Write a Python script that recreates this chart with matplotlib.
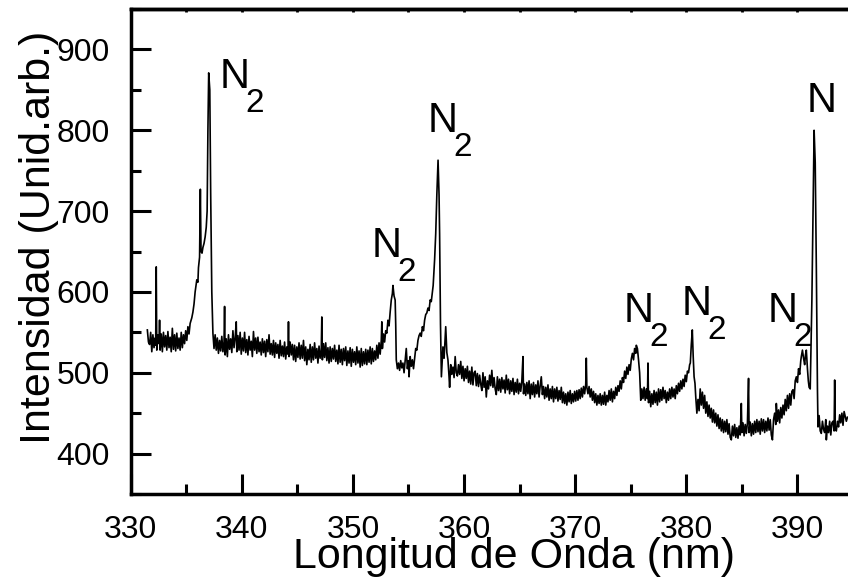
# Emission spectrum (N2 / N lines)

import numpy as np
import matplotlib.pyplot as plt
from matplotlib.ticker import MultipleLocator

# spectrum, one list per stretch:
# (wavelength nm, intensity arb. units)
seg_first_peak = [
    (331.5, 553), (331.6, 538), (331.7, 535), (331.8, 550), (331.9, 526), (332.0, 547),
    (332.1, 531), (332.2, 543), (332.25, 534), (332.3, 631), (332.35, 528), (332.45, 547),
    (332.55, 536), (332.6, 565), (332.65, 528), (332.75, 548), (332.85, 526), (332.95, 550),
    (333.05, 532), (333.15, 546), (333.25, 528), (333.35, 551), (333.45, 531), (333.55, 544),
    (333.65, 526), (333.75, 555), (333.85, 529), (333.95, 547), (334.05, 527), (334.15, 549),
    (334.25, 530), (334.35, 543), (334.45, 528), (334.55, 550), (334.65, 531), (334.75, 547),
    (334.85, 536), (334.95, 552), (335.05, 540), (335.15, 557), (335.25, 548), (335.35, 561),
    (335.5, 568), (335.6, 575), (335.7, 585), (335.8, 600), (335.95, 615), (336.05, 612),
    (336.1, 630), (336.2, 643), (336.27, 727), (336.33, 650), (336.42, 648), (336.5, 655),
    (336.6, 660), (336.7, 668), (336.8, 680), (336.88, 700), (336.95, 800), (337.02, 871),
    (337.12, 850), (337.2, 720), (337.3, 600), (337.4, 549),
]
seg_plateau = [
    (337.5, 530), (337.6, 547), (337.7, 528), (337.8, 543), (337.9, 524), (338.0, 540),
    (338.1, 527), (338.2, 545), (338.3, 526), (338.4, 538), (338.45, 582), (338.5, 522),
    (338.6, 542), (338.7, 520), (338.8, 547), (338.9, 529), (339.0, 542), (339.1, 525),
    (339.2, 552), (339.3, 531), (339.4, 543), (339.5, 563), (339.55, 526), (339.65, 546),
    (339.75, 528), (339.85, 550), (339.95, 523), (340.05, 543), (340.15, 527), (340.25, 550),
    (340.35, 525), (340.45, 541), (340.55, 522), (340.65, 545), (340.75, 528), (340.85, 539),
    (340.95, 520), (341.05, 551), (341.15, 528), (341.25, 543), (341.35, 524), (341.45, 544),
    (341.55, 526), (341.65, 538), (341.75, 522), (341.85, 542), (341.95, 525), (342.05, 539),
    (342.15, 520), (342.25, 541), (342.35, 526), (342.45, 547), (342.55, 523), (342.65, 536),
    (342.75, 522), (342.85, 540), (342.95, 519), (343.05, 537), (343.15, 524), (343.25, 535),
    (343.35, 518), (343.45, 540), (343.55, 521), (343.65, 533), (343.75, 520), (343.85, 538),
    (343.95, 517), (344.05, 532), (344.15, 523), (344.2, 563), (344.25, 520), (344.35, 538),
    (344.45, 522), (344.55, 535), (344.65, 516), (344.75, 534), (344.85, 514), (344.95, 532),
    (345.05, 519), (345.15, 537), (345.25, 517), (345.35, 534), (345.45, 518), (345.55, 540),
    (345.65, 515), (345.75, 532), (345.85, 510), (345.95, 529), (346.05, 516), (346.15, 535),
    (346.25, 513), (346.35, 532), (346.45, 516), (346.55, 537), (346.65, 518), (346.75, 530),
    (346.85, 512), (346.95, 533), (347.05, 518), (347.15, 528), (347.2, 569), (347.25, 516),
    (347.35, 536), (347.45, 519), (347.55, 537), (347.65, 515), (347.75, 531), (347.85, 512),
    (347.95, 532), (348.05, 514), (348.15, 530), (348.25, 517), (348.35, 534), (348.45, 514),
    (348.55, 528), (348.65, 511), (348.75, 534), (348.85, 513), (348.95, 529), (349.05, 510),
    (349.15, 530), (349.25, 515), (349.35, 532), (349.45, 509), (349.55, 527), (349.65, 512),
    (349.75, 531), (349.85, 508), (349.95, 529), (350.05, 513), (350.15, 526), (350.25, 510),
    (350.35, 532), (350.45, 512), (350.55, 527), (350.65, 507), (350.75, 530), (350.85, 509),
    (350.95, 526), (351.05, 511), (351.15, 529), (351.25, 510), (351.35, 528), (351.45, 513),
    (351.55, 532), (351.65, 511), (351.75, 530), (351.85, 514), (351.95, 527), (352.05, 516),
    (352.15, 534), (352.25, 518), (352.35, 537), (352.45, 523),
]
seg_middle_peaks = [
    (352.55, 540), (352.6, 563), (352.65, 530), (352.75, 548), (352.85, 538), (352.95, 552),
    (353.05, 549), (353.15, 565), (353.25, 558), (353.35, 575), (353.45, 590), (353.55, 598),
    (353.6, 608), (353.7, 595), (353.8, 590), (353.85, 560), (353.9, 516), (354.0, 505),
    (354.1, 512), (354.2, 503), (354.3, 515), (354.4, 506), (354.5, 512), (354.6, 500),
    (354.7, 515), (354.8, 530), (354.9, 505), (355.0, 515), (355.05, 495), (355.15, 520),
    (355.25, 508), (355.35, 516), (355.45, 505), (355.55, 518), (355.65, 530), (355.75, 528),
    (355.85, 540), (355.95, 546), (356.05, 549), (356.15, 545), (356.25, 557), (356.35, 552),
    (356.45, 565), (356.55, 572), (356.65, 574), (356.75, 580), (356.85, 577), (356.95, 590),
    (357.05, 588), (357.15, 600), (357.22, 608), (357.35, 640), (357.45, 672), (357.55, 720),
    (357.66, 763), (357.75, 720), (357.8, 672), (357.88, 560), (357.96, 495), (358.05, 520),
    (358.1, 532), (358.2, 518), (358.25, 530), (358.35, 557), (358.45, 525), (358.55, 516),
    (358.65, 495), (358.7, 482),
]
seg_slope = [
    (358.8, 510), (358.9, 498), (359.0, 507), (359.1, 494), (359.2, 520), (359.3, 500),
    (359.4, 496), (359.5, 510), (359.6, 498), (359.7, 514), (359.8, 493), (359.9, 508),
    (360.0, 490), (360.1, 505), (360.2, 493), (360.3, 508), (360.4, 488), (360.5, 502),
    (360.6, 486), (360.7, 507), (360.8, 485), (360.9, 500), (361.0, 502), (361.1, 484),
    (361.2, 499), (361.3, 483), (361.4, 497), (361.5, 486), (361.6, 478), (361.7, 500),
    (361.8, 482), (361.9, 495), (362.0, 470), (362.1, 490), (362.2, 480), (362.3, 497),
    (362.4, 484), (362.5, 503), (362.6, 482), (362.7, 494), (362.8, 480), (362.9, 473),
    (363.0, 495), (363.1, 478), (363.2, 492), (363.3, 476), (363.4, 494), (363.5, 480),
    (363.6, 491), (363.7, 475), (363.8, 497), (363.9, 479), (364.0, 492), (364.1, 474),
    (364.2, 490), (364.3, 477), (364.4, 493), (364.5, 473), (364.6, 488), (364.7, 476),
    (364.8, 492), (364.9, 474), (365.0, 487), (365.1, 477), (365.2, 490), (365.3, 520),
    (365.35, 474), (365.45, 486), (365.55, 472), (365.65, 488), (365.75, 474), (365.85, 490),
    (365.95, 468), (366.05, 486), (366.15, 473), (366.25, 488), (366.35, 470), (366.45, 485),
    (366.55, 474), (366.65, 490), (366.75, 470), (366.85, 484), (366.95, 495), (367.05, 473),
    (367.15, 483), (367.25, 468), (367.35, 482), (367.45, 470), (367.55, 485), (367.65, 466),
    (367.75, 480), (367.85, 468), (367.95, 483), (368.05, 464), (368.15, 480), (368.25, 468),
    (368.35, 482), (368.45, 465), (368.55, 478), (368.65, 467), (368.75, 482), (368.85, 463),
    (368.95, 476), (369.05, 462), (369.15, 474), (369.25, 460), (369.35, 476), (369.45, 464),
    (369.55, 478), (369.65, 462), (369.75, 474), (369.85, 464), (369.95, 477), (370.05, 465),
    (370.15, 478), (370.25, 466), (370.35, 479), (370.45, 468), (370.55, 481), (370.65, 470),
    (370.75, 483), (370.85, 474), (370.95, 486), (371.0, 518), (371.05, 482), (371.15, 474),
    (371.25, 483), (371.35, 470), (371.45, 480), (371.55, 466), (371.65, 477), (371.75, 463),
    (371.85, 474), (371.95, 460), (372.05, 472), (372.15, 462), (372.25, 474), (372.35, 460),
    (372.45, 472), (372.55, 461), (372.65, 476), (372.75, 460), (372.85, 472), (372.95, 464),
    (373.05, 478), (373.15, 466), (373.25, 480), (373.35, 464), (373.45, 477), (373.55, 468),
    (373.65, 482), (373.75, 472), (373.85, 484), (373.95, 477), (374.05, 490), (374.15, 480),
    (374.25, 494), (374.35, 488), (374.45, 502), (374.55, 493), (374.65, 507), (374.75, 498),
    (374.85, 510),
]
seg_red_end = [
    (374.95, 503), (375.05, 517), (375.15, 524), (375.25, 516), (375.35, 530), (375.45, 524),
    (375.5, 534), (375.6, 530), (375.7, 516), (375.8, 500), (375.9, 466), (376.0, 480),
    (376.1, 468), (376.2, 482), (376.3, 466), (376.4, 480), (376.5, 468), (376.55, 512),
    (376.6, 463), (376.7, 477), (376.8, 458), (376.9, 474), (377.0, 461), (377.1, 478),
    (377.2, 463), (377.3, 476), (377.4, 460), (377.5, 480), (377.6, 464), (377.7, 479),
    (377.8, 466), (377.9, 482), (378.0, 468), (378.1, 478), (378.2, 463), (378.3, 476),
    (378.4, 466), (378.5, 480), (378.6, 468), (378.7, 482), (378.8, 470), (378.9, 480),
    (379.0, 468), (379.1, 484), (379.2, 474), (379.3, 487), (379.4, 477), (379.5, 490),
    (379.6, 480), (379.7, 492), (379.8, 483), (379.9, 497), (380.0, 489), (380.1, 502),
    (380.2, 500), (380.3, 510), (380.36, 512), (380.45, 535), (380.54, 553), (380.62, 520),
    (380.7, 495), (380.78, 487), (380.85, 470), (380.95, 450), (381.05, 467), (381.15, 453),
    (381.25, 480), (381.35, 460), (381.45, 476), (381.55, 456), (381.65, 472), (381.75, 450),
    (381.85, 464), (381.95, 446), (382.05, 460), (382.15, 444), (382.25, 456), (382.35, 439),
    (382.45, 454), (382.55, 438), (382.65, 450), (382.75, 434), (382.85, 448), (382.95, 431),
    (383.05, 444), (383.15, 428), (383.25, 442), (383.35, 426), (383.45, 440), (383.55, 427),
    (383.65, 442), (383.75, 424), (383.85, 437), (383.95, 420), (384.05, 417), (384.15, 434),
    (384.25, 422), (384.35, 436), (384.45, 420), (384.55, 432), (384.65, 419), (384.75, 434),
    (384.85, 423), (384.95, 462), (385.0, 426), (385.1, 438), (385.2, 422), (385.3, 436),
    (385.4, 425), (385.5, 438), (385.6, 493), (385.65, 426), (385.75, 439), (385.85, 422),
    (385.95, 437), (386.05, 424), (386.15, 440), (386.25, 426), (386.35, 442), (386.45, 427),
    (386.55, 440), (386.65, 424), (386.75, 443), (386.85, 428), (386.95, 442), (387.05, 426),
    (387.15, 440), (387.25, 428), (387.35, 444), (387.45, 429), (387.55, 442), (387.65, 423),
    (387.75, 417), (387.85, 442), (387.95, 450), (388.05, 436), (388.1, 462), (388.2, 440),
    (388.3, 454), (388.4, 438), (388.5, 457), (388.6, 444), (388.7, 460), (388.8, 448),
    (388.9, 467), (389.0, 453), (389.1, 472), (389.2, 456), (389.3, 474), (389.4, 460),
    (389.5, 477), (389.6, 479), (389.7, 468), (389.8, 490), (389.9, 495), (390.0, 488),
    (390.1, 505), (390.2, 498), (390.3, 515), (390.35, 520), (390.45, 528), (390.55, 518),
    (390.65, 510), (390.72, 522), (390.8, 528), (390.9, 505), (390.98, 490), (391.05, 482),
    (391.15, 480), (391.3, 590), (391.5, 800), (391.6, 760), (391.7, 631), (391.8, 480),
    (391.85, 433), (391.95, 447), (392.05, 428), (392.15, 425), (392.25, 440), (392.35, 430),
    (392.45, 426), (392.55, 442), (392.6, 417), (392.7, 434), (392.8, 426), (392.9, 440),
    (393.0, 423), (393.1, 438), (393.2, 440), (393.3, 428), (393.35, 491), (393.4, 430),
    (393.5, 428), (393.6, 440), (393.7, 433), (393.8, 448), (393.9, 438), (394.0, 450),
    (394.1, 435), (394.2, 452), (394.3, 446), (394.4, 440), (394.5, 445),
]

# line labels: (x, y) of the "N" baseline start, with or without subscript 2
label_x = [338.03, 351.7, 356.7, 374.4, 379.6, 387.3, 390.8]
label_y = [852, 643, 798, 563, 571, 563, 823]
label_sub = [True, True, True, True, True, True, False]

spectrum = np.array(seg_first_peak + seg_plateau + seg_middle_peaks + seg_slope + seg_red_end)
wavelength = spectrum[:, 0]
intensity = spectrum[:, 1]

plt.rcParams['font.family'] = ['Liberation Sans', 'DejaVu Sans']

fig = plt.figure(figsize=(8.48, 5.86), dpi=100)
ax = fig.add_axes([0.1541, 0.157, 0.8518, 0.8276])

ax.plot(wavelength, intensity, color='black', lw=1.2)

for x, y, sub in zip(label_x, label_y, label_sub):
    ax.text(x, y, 'N', fontsize=30, ha='left', va='baseline')
    if sub:
        ax.annotate('2', (x, y), xytext=(18.5, -17.3), textcoords='offset points',
                    fontsize=24, ha='left', va='baseline')

ax.set_xlim(330, 395)
ax.set_ylim(350, 950)
ax.xaxis.set_major_locator(MultipleLocator(10))
ax.xaxis.set_minor_locator(MultipleLocator(5))
ax.yaxis.set_major_locator(MultipleLocator(100))
ax.yaxis.set_minor_locator(MultipleLocator(50))
ax.set_xticks([330, 340, 350, 360, 370, 380, 390])
ax.set_yticks([400, 500, 600, 700, 800, 900])

ax.tick_params(which='both', direction='in', width=2.2, top=False, right=False)
ax.tick_params(which='major', length=14.4, labelsize=23)
ax.tick_params(which='minor', length=7.2)
ax.tick_params(axis='x', which='major', pad=15)
ax.tick_params(axis='y', which='major', pad=15)

# tiny marks along the top edge
top = ax.secondary_xaxis('top')
top.xaxis.set_major_locator(MultipleLocator(5))
top.tick_params(direction='in', length=2.5, width=2.0, labeltop=False)

for sp in ax.spines.values():
    sp.set_linewidth(2.5)
top.spines['top'].set_linewidth(2.5)

ax.set_xlabel('Longitud de Onda (nm)', fontsize=31)
ax.xaxis.label.set_va('baseline')
ax.xaxis.set_label_coords(0.531, -0.1526)
ax.set_ylabel('Intensidad (Unid.arb.)', fontsize=31)
ax.yaxis.label.set_va('baseline')
ax.yaxis.set_label_coords(-0.1117, 0.529)

fig.savefig('out.png', dpi=100)
